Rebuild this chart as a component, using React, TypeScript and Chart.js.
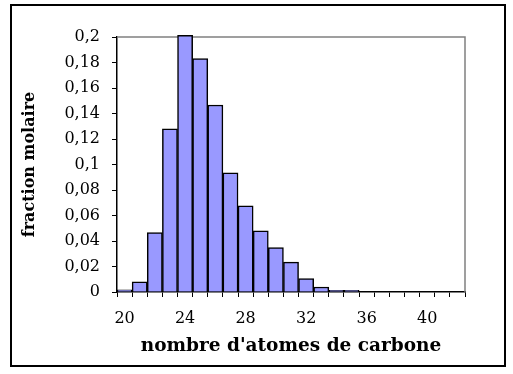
import React, { useEffect, useRef } from 'react';
import { Chart, registerables } from 'chart.js';

Chart.register(...registerables);

// Data
const carbonNumbers = [
  '20', '21', '22', '23', '24', '25', '26', '27', '28', '29', '30', '31',
  '32', '33', '34', '35', '36', '37', '38', '39', '40', '41', '42',
];
const molarFractions = [
  0.0018, 0.0079, 0.0467, 0.128, 0.2013, 0.183, 0.1467, 0.0934, 0.0675, 0.048,
  0.0349, 0.0234, 0.0105, 0.0039, 0.0013, 0.0013, 0, 0, 0, 0, 0, 0, 0,
];
const yMin = 0;
const yMax = 0.2;
const yStep = 0.02;
const xLabelEvery = 4;
const xTitle = "nombre d'atomes de carbone";
const yTitle = 'fraction molaire';

const FONT = "'DejaVu Serif', 'Liberation Serif', serif";

const frameLines = {
  id: 'frameLines',
  beforeDatasetsDraw(chart: any) {
    const { ctx, chartArea } = chart;
    ctx.save();
    ctx.strokeStyle = '#808080';
    ctx.lineWidth = 1.5;
    ctx.beginPath();
    ctx.moveTo(chartArea.left, chartArea.top);
    ctx.lineTo(chartArea.right, chartArea.top);
    ctx.lineTo(chartArea.right, chartArea.bottom);
    ctx.stroke();
    ctx.restore();
  },
};

export default function App() {
  const canvasRef = useRef<HTMLCanvasElement | null>(null);

  useEffect(() => {
    document.body.style.margin = '0';
    const canvas = canvasRef.current;
    if (!canvas) return;
    const chart = new Chart(canvas, {
      type: 'bar',
      data: {
        labels: carbonNumbers,
        datasets: [
          {
            data: molarFractions,
            backgroundColor: '#9999FF',
            borderColor: '#000000',
            borderWidth: 1.5,
            categoryPercentage: 1,
            barPercentage: 1,
            clip: false as any,
          },
        ],
      },
      options: {
        responsive: false,
        maintainAspectRatio: false,
        animation: false,
        layout: { padding: { left: 17, right: 48, top: 37, bottom: 17 } },
        plugins: {
          legend: { display: false },
          tooltip: { enabled: false },
        },
        scales: {
          x: {
            type: 'category',
            offset: true,
            grid: {
              offset: true,
              drawOnChartArea: false,
              drawTicks: true,
              tickLength: 5,
              color: '#000000',
              lineWidth: 1,
            },
            border: { display: true, color: '#000000', width: 1.5 },
            ticks: {
              autoSkip: false,
              maxRotation: 0,
              padding: 12,
              color: '#000000',
              font: { family: FONT, size: 16 },
              callback: (_v: any, i: number) =>
                i % xLabelEvery === 0 ? carbonNumbers[i] : '',
            },
            title: {
              display: true,
              text: xTitle,
              color: '#000000',
              font: { family: FONT, size: 18.5, weight: 'bold' },
              padding: { top: 0, bottom: 0 },
            },
            afterFit: (s: any) => {
              s.height = 65;
            },
          },
          y: {
            min: yMin,
            max: yMax,
            grid: {
              drawOnChartArea: false,
              drawTicks: true,
              tickLength: 5,
              color: '#000000',
              lineWidth: 1,
            },
            border: { display: true, color: '#000000', width: 1.5 },
            ticks: {
              stepSize: yStep,
              padding: 12,
              color: '#000000',
              font: { family: FONT, size: 16 },
              callback: (v: any) =>
                String(Number(Number(v).toFixed(2))).replace('.', ','),
            },
            title: {
              display: true,
              text: yTitle,
              color: '#000000',
              font: { family: FONT, size: 16, weight: 'bold' },
              padding: { top: 3, bottom: 0 },
            },
            afterFit: (s: any) => {
              s.width = 100;
            },
          },
        },
      } as any,
      plugins: [frameLines],
    });
    return () => chart.destroy();
  }, []);

  return (
    <div style={{ position: 'relative', width: 513, height: 374, background: '#ffffff' }}>
      <canvas ref={canvasRef} width={513} height={374} style={{ display: 'block' }} />
      <div
        style={{
          position: 'absolute',
          left: 10,
          top: 4,
          width: 496,
          height: 363,
          border: '2px solid #000000',
          boxSizing: 'border-box',
          pointerEvents: 'none',
        }}
      />
    </div>
  );
}
